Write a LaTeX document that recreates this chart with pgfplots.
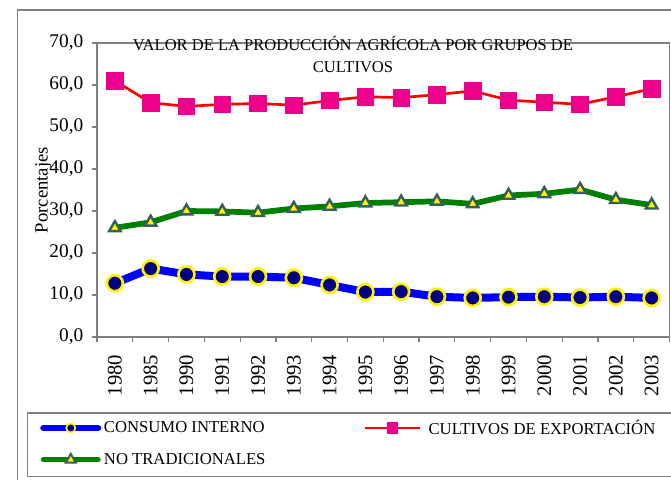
\documentclass[border=0pt]{standalone}
\usepackage{pgfplots}
\pgfplotsset{compat=1.18}
\usepackage{fontspec}
\setmainfont{Liberation Serif}
\definecolor{navyc}{HTML}{000080}
\definecolor{slatec}{HTML}{33605F}
\definecolor{framec}{HTML}{808080}
\definecolor{greenc}{HTML}{008000}
\pgfplotsset{
  bluelegend/.style={legend image code/.code={\draw[##1, line width=4.8pt, line cap=round, mark size=3.4pt, mark repeat=2, mark phase=2, mark options={fill=navyc, draw=yellow, line width=1.3pt}] plot coordinates {(0pt,0pt) (20.5pt,0pt) (41pt,0pt)};}},
  redlegend/.style={legend image code/.code={\draw[##1, line width=1.8pt, mark size=4pt, mark repeat=2, mark phase=2] plot coordinates {(0pt,0pt) (20.5pt,0pt) (41pt,0pt)};}},
  greenlegend/.style={legend image code/.code={\draw[##1, line width=3.9pt, line cap=round, mark size=4.3pt, mark repeat=2, mark phase=2, mark options={fill=yellow, draw=slatec, line width=1.5pt}] plot coordinates {(0pt,0pt) (20.5pt,0pt) (41pt,0pt)};}},
}
\begin{document}
\begin{tikzpicture}
% outer chart border
\draw[framec, line width=0.8pt] (12.9pt,351.75pt) rectangle (530pt,-20pt);
% legend box
\draw[framec, line width=0.8pt] (20.6pt,49.5pt) rectangle (530pt,1.6pt);
\begin{axis}[
  at={(72.75pt,106.5pt)}, anchor=south west,
  width=429.4pt, height=220.5pt, scale only axis,
  xmin=-0.5, xmax=15.5, ymin=0, ymax=70,
  xtick={0,...,15},
  xticklabels={1980,1985,1990,1991,1992,1993,1994,1995,1996,1997,1998,1999,2000,2001,2002,2003},
  major x tick style={draw=none},
  minor xtick={-0.5,0.5,...,15.5},
  ytick={0,10,...,70},
  tick align=outside, tick pos=left,
  major tick length=3.75pt, minor tick length=3.75pt,
  every tick/.style={framec, line width=0.9pt},
  axis line style={framec, line width=1.3pt},
  /pgf/number format/.cd, fixed, fixed zerofill, precision=1, use comma, assume math mode=true,
  /pgfplots/.cd,
  yticklabel style={font=\fontsize{14.5pt}{16pt}\selectfont, xshift=-3pt},
  xticklabel style={font=\fontsize{15.5pt}{17pt}\selectfont, rotate=90, anchor=east, xshift=-6pt},
  ylabel={Porcentajes},
  ylabel style={font=\fontsize{14pt}{16pt}\selectfont, at={(axis description cs:-0.0934,0.5)}, anchor=center},
  legend columns=2,
  legend cell align=left,
  legend style={draw=none, fill=none, inner sep=0pt,
    at={(axis description cs:-0.0996,-0.3605)}, anchor=west,
    font=\fontsize{12.5pt}{14pt}\selectfont,
    row sep=8.75pt,
    /tikz/column 1/.style={column sep=0pt},
    /tikz/column 2/.style={column sep=71.75pt},
    /tikz/column 3/.style={column sep=3.75pt}},
]
\addplot[blue, line width=6pt, mark=*, mark size=6pt,
  mark options={fill=navyc, draw=yellow, line width=2pt}, bluelegend]
coordinates {(0,12.8) (1,16.3) (2,14.9) (3,14.4) (4,14.4) (5,14.1) (6,12.4) (7,10.7) (8,10.8) (9,9.6) (10,9.3) (11,9.5) (12,9.6) (13,9.4) (14,9.6) (15,9.3)};
\addlegendentry{CONSUMO INTERNO}
\addplot[red, line width=2pt, mark=square*, mark size=6.2pt,
  mark options={fill=magenta, draw=magenta, line width=0.5pt}, redlegend]
coordinates {(0,61.0) (1,55.8) (2,54.9) (3,55.4) (4,55.6) (5,55.2) (6,56.3) (7,57.2) (8,57.0) (9,57.7) (10,58.6) (11,56.4) (12,55.9) (13,55.4) (14,57.2) (15,59.1)};
\addlegendentry{CULTIVOS DE EXPORTACIÓN}
\addplot[greenc, line width=4.3pt, mark=triangle*, mark size=5pt,
  mark options={fill=yellow, draw=slatec, line width=1.8pt}, greenlegend]
coordinates {(0,26.0) (1,27.3) (2,30.0) (3,29.9) (4,29.6) (5,30.6) (6,31.1) (7,31.9) (8,32.1) (9,32.3) (10,31.7) (11,33.7) (12,34.1) (13,35.1) (14,32.7) (15,31.4)};
\addlegendentry{NO TRADICIONALES}
\end{axis}
\node[align=center, font=\fontsize{12.4pt}{16.5pt}\selectfont] at (264.75pt,318pt) {VALOR DE LA PRODUCCIÓN AGRÍCOLA POR GRUPOS DE\\CULTIVOS};
\pgfresetboundingbox
\useasboundingbox (0pt,0pt) rectangle (503.25pt,359.25pt);
\end{tikzpicture}
\end{document}
